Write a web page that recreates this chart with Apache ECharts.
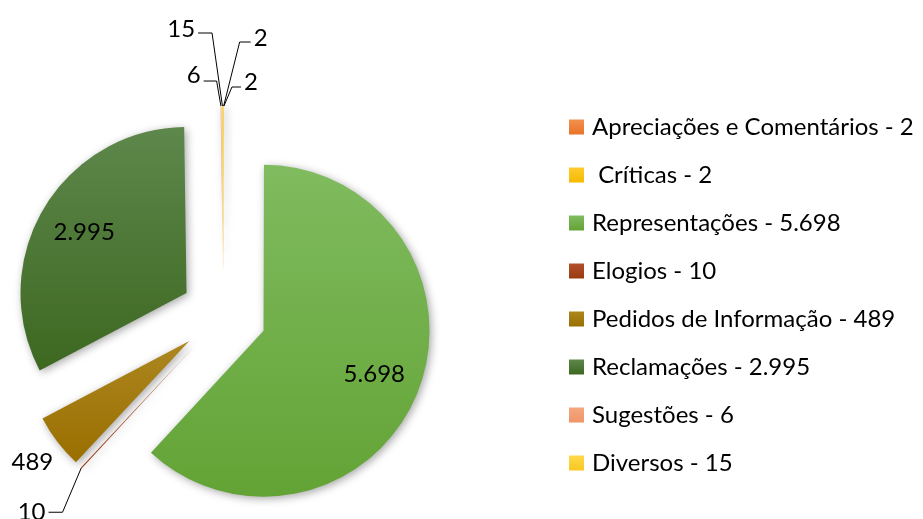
<!DOCTYPE html>
<html>
<head>
<meta charset="utf-8">
<script src="https://cdn.jsdelivr.net/npm/echarts@6/dist/echarts.min.js"></script>
<style>
html,body{margin:0;padding:0;background:#fff;}
#chart{width:923px;height:519px;}
</style>
</head>
<body>
<div id="chart"></div>
<script>
const categories = ['Apreciações e Comentários', ' Críticas', 'Representações', 'Elogios', 'Pedidos de Informação', 'Reclamações', 'Sugestões', 'Diversos'];
const values = [2, 2, 5698, 10, 489, 2995, 6, 15];
const colorsTop = ['#F2904E', '#FFCB2E', '#80BB5F', '#B0502A', '#AC8620', '#5E874C', '#F5A77E', '#FFD84A'];
const colorsBottom = ['#E97328', '#F5BA00', '#63A335', '#9C3A10', '#9A6F00', '#3D6820', '#F09468', '#F7C820'];
const insideLabels = ['Representações', 'Reclamações'];

function fmt(v) { return String(v).replace(/\B(?=(\d{3})+(?!\d))/g, '.'); }

const FONT = 'Lato';
const lineCfg = {
  'Apreciações e Comentários': { length: 64, length2: 27 },
  ' Críticas': { length: 19, length2: 17 },
  'Elogios': { length: 48, length2: 5 },
  'Pedidos de Informação': { length: 14, length2: 0, show: false },
  'Sugestões': { length: 25, length2: 17 },
  'Diversos': { length: 73, length2: 24 }
};
// label nudges and label-line corner skew (relative to ECharts' own layout)
const labelShift = {
  'Pedidos de Informação': { dx: 10, dy: 12 },
  'Elogios': { dx: 5, dy: 9, corner: [14, 9], end: [5, 9] },
  'Apreciações e Comentários': { dy: -4, corner: [16, 0] },
  ' Críticas': { dy: -5, corner: [8, 0] },
  'Sugestões': { dy: -6, corner: [-4, 0] },
  'Diversos': { dy: -4, corner: [-10, 0] }
};

const grad = (i) => new echarts.graphic.LinearGradient(0, 0, 0, 1, [
  { offset: 0, color: colorsTop[i] }, { offset: 1, color: colorsBottom[i] }
]);

const mainData = categories.map((name, i) => {
  const inside = insideLabels.includes(name);
  const lc = lineCfg[name] || { length: 10, length2: 10 };
  return {
    name, value: values[i], selected: true,
    itemStyle: { color: grad(i) },
    label: { show: !inside },
    labelLine: { show: !inside && lc.show !== false, length: lc.length, length2: lc.length2 }
  };
});

const overlayData = categories.map((name, i) => ({
  name, value: values[i], selected: true,
  label: { show: insideLabels.includes(name) }
}));

function layoutLabel(p) {
  const s = labelShift[categories[p.dataIndex]];
  if (!s) return {};
  const out = {};
  if (s.dx) out.dx = s.dx;
  if (s.dy) out.dy = s.dy;
  const pts = p.labelLinePoints;
  if (pts && pts.length === 3 && (s.corner || s.end)) {
    const c = s.corner || [0, 0], e = s.end || [0, 0];
    out.labelLinePoints = [
      [pts[0][0], pts[0][1]],
      [pts[1][0] + c[0], pts[1][1] + c[1]],
      [pts[2][0] + e[0], pts[2][1] + e[1]]
    ];
  }
  return out;
}

const chart = echarts.init(document.getElementById('chart'), null, { renderer: 'canvas' });
chart.setOption({
  animation: false,
  backgroundColor: '#fff',
  legend: {
    orient: 'vertical', left: 569, top: 114, padding: 0,
    itemWidth: 15, itemHeight: 15, itemGap: 22,
    icon: 'rect',
    data: categories,
    textStyle: { fontFamily: FONT, fontSize: 24, color: '#000', lineHeight: 26, padding: [0, 0, 0, 3] },
    formatter: (name) => name + ' - ' + fmt(values[categories.indexOf(name)]),
    selectedMode: false
  },
  series: [
    {
      type: 'pie', name: 'main',
      center: [223.5, 315], radius: 166,
      startAngle: 90, clockwise: true,
      selectedMode: 'multiple', selectedOffset: 43,
      avoidLabelOverlap: false,
      emphasis: { disabled: true },
      itemStyle: { shadowBlur: 8, shadowColor: 'rgba(0,0,0,0.35)', shadowOffsetX: 2, shadowOffsetY: 2 },
      label: { position: 'outside', formatter: (p) => fmt(p.value), fontFamily: FONT, fontSize: 24, color: '#000', distanceToLabelLine: 3 },
      labelLine: { lineStyle: { color: '#000', width: 1 } },
      labelLayout: layoutLabel,
      data: mainData
    },
    {
      type: 'pie', name: 'overlay', silent: true,
      center: [223.5, 315], radius: [66, 166],
      startAngle: 90, clockwise: true,
      selectedMode: 'multiple', selectedOffset: 43,
      avoidLabelOverlap: false,
      emphasis: { disabled: true },
      itemStyle: { color: 'rgba(0,0,0,0)' },
      label: { position: 'inside', formatter: (p) => fmt(p.value), fontFamily: FONT, fontSize: 24, color: '#000' },
      labelLine: { show: false },
      data: overlayData
    }
  ]
});
</script>
</body>
</html>
